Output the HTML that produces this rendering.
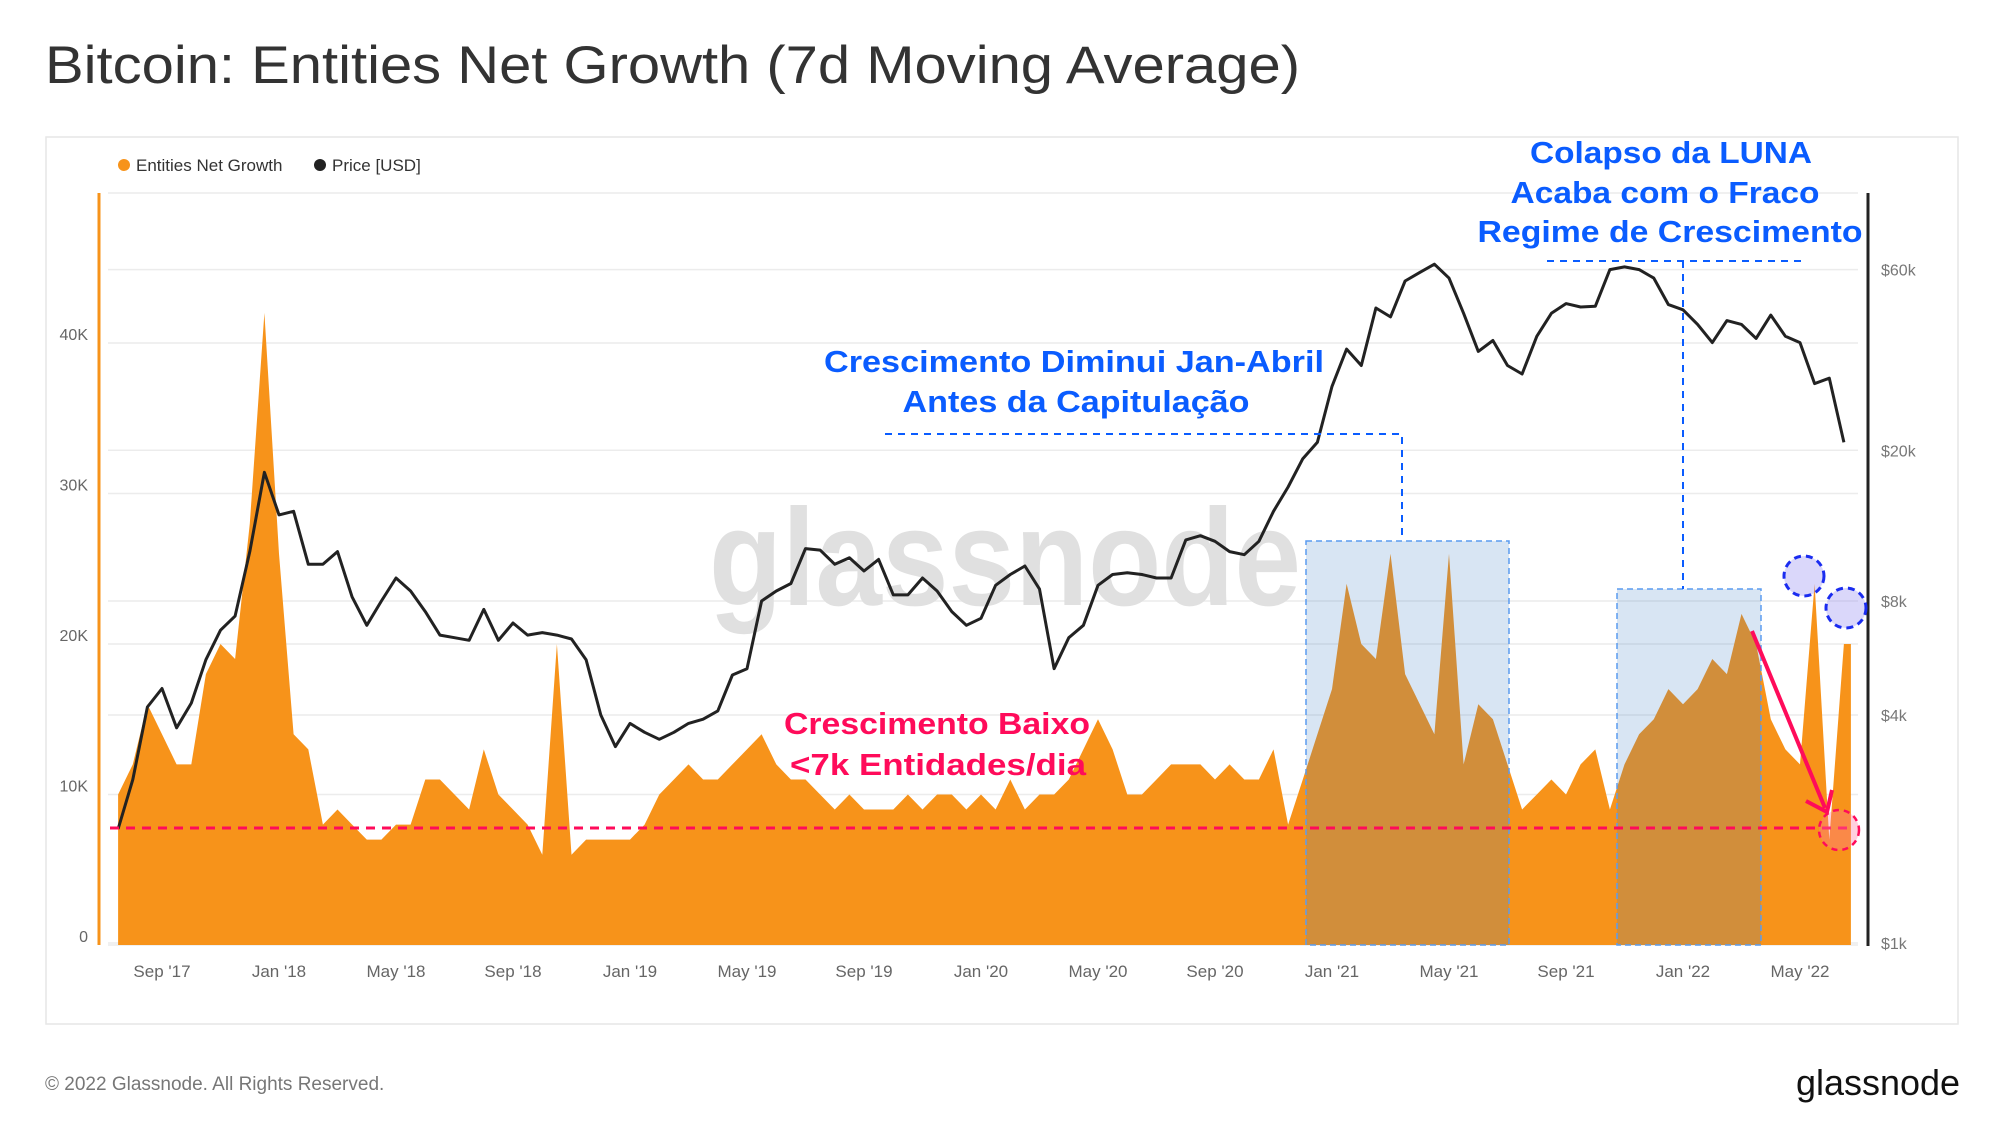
<!DOCTYPE html>
<html><head><meta charset="utf-8"><style>
html,body{margin:0;padding:0;background:#fff;}
svg{display:block;font-family:"Liberation Sans",sans-serif;}
</style></head><body>
<svg id="chart" width="2000" height="1126" viewBox="0 0 2000 1126" xmlns="http://www.w3.org/2000/svg">
<text x="45" y="83" font-size="53" fill="#333" textLength="1255" lengthAdjust="spacingAndGlyphs">Bitcoin: Entities Net Growth (7d Moving Average)</text>
<rect x="46" y="137" width="1912" height="887" fill="none" stroke="#e6e6e6" stroke-width="1.5"/>
<g>
<circle cx="124" cy="165" r="6" fill="#f7931a"/>
<text x="136" y="171" font-size="17" fill="#333">Entities Net Growth</text>
<circle cx="320" cy="165" r="6" fill="#222"/>
<text x="332" y="171" font-size="17" fill="#333">Price [USD]</text>
</g>
<g id="grid"></g>
<text x="709" y="605" font-size="138" font-weight="bold" fill="#e0e0e0" textLength="592" lengthAdjust="spacingAndGlyphs">glassnode</text>
<g id="bars"></g>
<rect x="1306" y="541" width="203" height="404" fill="rgba(62,127,196,0.2)" stroke="#5a9cf0" stroke-width="1.5" stroke-dasharray="6,4"/>
<rect x="1617" y="589" width="144" height="356" fill="rgba(62,127,196,0.2)" stroke="#5a9cf0" stroke-width="1.5" stroke-dasharray="6,4"/>
<g id="price"></g>
<line x1="99" y1="193" x2="99" y2="945" stroke="#f7931a" stroke-width="3"/>
<line x1="1868" y1="193" x2="1868" y2="946" stroke="#222" stroke-width="3"/>
<g id="axes"></g>
<line x1="110" y1="828" x2="1851" y2="828" stroke="#ff0b5a" stroke-width="3" stroke-dasharray="9,7"/>
<polyline points="885,434 1402,434 1402,541" fill="none" stroke="#0a5cff" stroke-width="2" stroke-dasharray="7,6"/>
<line x1="1547" y1="261" x2="1805" y2="261" stroke="#0a5cff" stroke-width="2" stroke-dasharray="7,6"/>
<line x1="1683" y1="261" x2="1683" y2="589" stroke="#0a5cff" stroke-width="2" stroke-dasharray="7,6"/>
<ellipse cx="1804" cy="576" rx="20" ry="20" fill="rgba(150,140,240,0.35)" stroke="#1a2cf0" stroke-width="3" stroke-dasharray="7,5"/>
<ellipse cx="1846" cy="608" rx="20" ry="20" fill="rgba(150,140,240,0.35)" stroke="#1a2cf0" stroke-width="3" stroke-dasharray="7,5"/>
<ellipse cx="1839" cy="830" rx="20" ry="20" fill="rgba(255,120,160,0.35)" stroke="#ff0b5a" stroke-width="2.5" stroke-dasharray="6,5"/>
<line x1="1752" y1="631" x2="1825" y2="808" stroke="#ff0b5a" stroke-width="4"/>
<polyline points="1806,801 1827,812 1832,790" fill="none" stroke="#ff0b5a" stroke-width="4"/>
<g font-weight="bold" fill="#0a5cff" font-size="31" text-anchor="middle">
<text x="1671" y="163" textLength="282" lengthAdjust="spacingAndGlyphs">Colapso da LUNA</text>
<text x="1665" y="203" textLength="309" lengthAdjust="spacingAndGlyphs">Acaba com o Fraco</text>
<text x="1670" y="242" textLength="385" lengthAdjust="spacingAndGlyphs">Regime de Crescimento</text>
</g>
<g font-weight="bold" fill="#0a5cff" font-size="31" text-anchor="middle">
<text x="1074" y="372" textLength="500" lengthAdjust="spacingAndGlyphs">Crescimento Diminui Jan-Abril</text>
<text x="1076" y="412" textLength="347" lengthAdjust="spacingAndGlyphs">Antes da Capitulação</text>
</g>
<g font-weight="bold" fill="#ff0b5a" font-size="31" text-anchor="middle">
<text x="937" y="734" textLength="306" lengthAdjust="spacingAndGlyphs">Crescimento Baixo</text>
<text x="938" y="775" textLength="296" lengthAdjust="spacingAndGlyphs">&lt;7k Entidades/dia</text>
</g>
<text x="45" y="1090" font-size="19" fill="#777">© 2022 Glassnode. All Rights Reserved.</text>
<text x="1960" y="1095" font-size="36" fill="#111" text-anchor="end" textLength="164" lengthAdjust="spacingAndGlyphs">glassnode</text>
</svg>
<script>
// half-month samples starting 2017-07-15
const growthK = [10,12,16,14,12,12,18,20,19,28,42,
26,14,13,8,9,8,7,7,8,8,11,11,10,9,13,10,9,8,6,20,6,7,7,7,
7,8,10,11,12,11,11,12,13,14,12,11,11,10,9,10,9,9,9,10,9,10,10,9,
10,9,11,9,10,10,11,13,15,13,10,10,11,12,12,12,11,12,11,11,13,8,
11,14,17,24,20,19,26,18,16,14,26,12,16,15,12,9,10,11,10,12,13,9,
12,14,15,17,16,17,19,18,22,20,15,13,12,24,7,20];
const priceUSD = [2000,2700,4200,4700,3700,4300,5600,6700,7300,10800,17500,
13500,13800,10000,10000,10800,8200,6900,8000,9200,8500,7500,6500,6400,6300,7600,6300,7000,6500,6600,6500,6350,5600,4000,3300,
3800,3600,3450,3600,3800,3900,4100,5100,5300,8000,8500,8900,11000,10900,10000,10400,9600,10300,8300,8300,9200,8500,7500,6900,
7200,8800,9400,9900,8600,5300,6400,6900,8800,9400,9500,9400,9200,9200,11600,11900,11500,10800,10600,11500,13800,16000,19000,21000,
29500,37000,33500,47500,45000,56000,59000,62000,57000,46000,36500,39000,33500,31800,40000,46000,48800,47800,48000,60000,61000,60000,57000,48500,
47000,43000,38500,44000,43000,39500,45500,40000,38500,30000,31000,21000];
const leftTicks = [0,10,20,30,40];
const leftTickLabels = ["0","10K","20K","30K","40K"];
const rightTicks = [1000,4000,8000,20000,60000];
const rightTickLabels = ["$1k","$4k","$8k","$20k","$60k"];
const xTickMonths = [2,6,10,14,18,22,26,30,34,38,42,46,50,54,58]; // months since 2017-07-01
const xTickLabels = ["Sep '17","Jan '18","May '18","Sep '18","Jan '19","May '19","Sep '19","Jan '20","May '20","Sep '20","Jan '21","May '21","Sep '21","Jan '22","May '22"];

const NS="http://www.w3.org/2000/svg";
const X0=279, PXM=29.25;
const xMonth = m => X0 + (m-6)*PXM;
const xIdx = i => xMonth(0.5 + i*0.5);
const yL = v => 945 - v*15.05;
const yR = p => 943 - 114*Math.log2(p/1000);
function mk(tag, attrs, parent){const e=document.createElementNS(NS,tag);for(const k in attrs)e.setAttribute(k,attrs[k]);parent.appendChild(e);return e;}

const grid=document.getElementById('grid'), axes=document.getElementById('axes');
leftTicks.forEach((t,i)=>{
  const g=mk('line',{x1:108,x2:1858,y1:yL(t),y2:yL(t),stroke:'#ececec','stroke-width':1.5},grid);
  
  
  const tx=mk('text',{x:88,y:yL(t)-3,'font-size':16,fill:'#666','text-anchor':'end'},axes);
  tx.textContent=leftTickLabels[i];
  
  
});
rightTicks.forEach((t,i)=>{
  const g=mk('line',{x1:108,x2:1858,y1:yR(t),y2:yR(t),stroke:'#ececec','stroke-width':1.5},grid);
  
  
  const tx=mk('text',{x:1881,y:yR(t)+6,'font-size':16,fill:'#777'},axes);
  tx.textContent=rightTickLabels[i];
  
  
});
mk('line',{x1:108,x2:1858,y1:193,y2:193,stroke:'#ececec','stroke-width':1.5},grid);
xTickMonths.forEach((m,i)=>{
  const tx=mk('text',{x:xMonth(m),y:977,'font-size':17,fill:'#666','text-anchor':'middle'},axes);
  tx.textContent=xTickLabels[i];
  
  
});
let d='M'+xIdx(0).toFixed(1)+',945';
growthK.forEach((v,i)=>{d+=' L'+xIdx(i).toFixed(1)+','+yL(v).toFixed(1);});
d+=' L'+(xIdx(growthK.length-1)+7).toFixed(1)+','+yL(growthK[growthK.length-1]).toFixed(1)+' L'+(xIdx(growthK.length-1)+7).toFixed(1)+',945 Z';
const area=mk('path',{d:d,fill:'#f7931a'},document.getElementById('bars'));


let pd='';
priceUSD.forEach((p,i)=>{pd+=(i?' L':'M')+xIdx(i).toFixed(1)+','+yR(p).toFixed(1);});
const pl=mk('path',{d:pd,fill:'none',stroke:'#222','stroke-width':3,'stroke-linejoin':'round'},document.getElementById('price'));


</script>
</body></html>
